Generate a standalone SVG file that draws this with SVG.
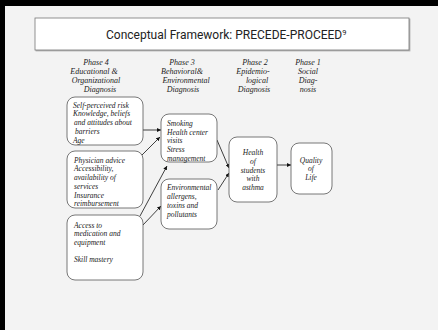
<svg xmlns="http://www.w3.org/2000/svg" width="438" height="330" viewBox="0 0 438 330">
<defs>
<marker id="arr" viewBox="0 0 10 10" refX="10" refY="5" markerWidth="4" markerHeight="4" orient="auto" markerUnits="userSpaceOnUse">
<path d="M0,0 L10,5 L0,10 z" fill="#111"/>
</marker>
<filter id="sh" x="-5%" y="-20%" width="110%" height="140%">
<feDropShadow dx="1" dy="1" stdDeviation="0.6" flood-color="#888" flood-opacity="0.6"/>
</filter>
</defs>
<style>
.bg{fill:#f3f3f3}
.box{fill:#fff;stroke:#555;stroke-width:0.8}
.ph{font-family:"Liberation Serif",serif;font-style:italic;font-size:8px;fill:#222;text-anchor:middle}
.bt{font-family:"Liberation Serif",serif;font-style:italic;font-size:7.5px;fill:#222}
.bc{text-anchor:middle}
.ln{stroke:#111;stroke-width:0.8;fill:none;marker-end:url(#arr)}
.title{font-family:Roboto,"Liberation Sans",sans-serif;font-size:12px;fill:#222}
</style>
<rect class="bg" x="0" y="0" width="438" height="330"/>
<rect x="0" y="0" width="438" height="6" fill="#000"/>
<rect x="0" y="0" width="5" height="330" fill="#000"/>

<g id="title">
<rect x="35" y="18" width="374" height="32" fill="#fff" stroke="#777" stroke-width="0.8" filter="url(#sh)"/>
<text class="title" x="106" y="39">Conceptual Framework: PRECEDE-PROCEED<tspan font-size="7.5px" dy="-4">9</tspan></text>
</g>

<g id="phase4"><text class="ph" x="96" y="65">Phase 4</text><text class="ph" x="94" y="74">Educational &amp;</text><text class="ph" x="96" y="83">Organizational</text><text class="ph" x="100" y="92">Diagnosis</text></g>
<g id="phase3"><text class="ph" x="182" y="65">Phase 3</text><text class="ph" x="182" y="74">Behavioral&amp;</text><text class="ph" x="186" y="83">Environmental</text><text class="ph" x="183" y="92">Diagnosis</text></g>
<g id="phase2"><text class="ph" x="255" y="65">Phase 2</text><text class="ph" x="253" y="74">Epidemio-</text><text class="ph" x="257" y="83">logical</text><text class="ph" x="254" y="92">Diagnosis</text></g>
<g id="phase1"><text class="ph" x="308" y="65">Phase 1</text><text class="ph" x="308" y="74">Social</text><text class="ph" x="308" y="83">Diag-</text><text class="ph" x="308" y="92">nosis</text></g>

<g id="connectors">
<line class="ln" x1="143" y1="130" x2="161" y2="130"/>
<line class="ln" x1="142" y1="155" x2="160" y2="137"/>
<line class="ln" x1="140" y1="216" x2="167" y2="166"/>
<line class="ln" x1="143" y1="225" x2="161" y2="206"/>
<line class="ln" x1="217" y1="140" x2="229" y2="168"/>
<line class="ln" x1="218" y1="190" x2="229" y2="173"/>
<line class="ln" x1="277" y1="165" x2="291" y2="165"/>
</g>

<g id="boxA">
<rect class="box" x="67" y="97" width="76" height="48" rx="8"/>
<text class="bt" x="73" y="108">Self-perceived risk</text>
<text class="bt" x="73" y="116">Knowledge, beliefs</text>
<text class="bt" x="74" y="125"> and attitudes about</text>
<text class="bt" x="75" y="134">barriers</text>
<text class="bt" x="73" y="143">Age</text>
</g>
<g id="boxB">
<rect class="box" x="67" y="151" width="76" height="57" rx="8"/>
<text class="bt" x="74" y="163">Physician advice</text>
<text class="bt" x="74" y="171">Accessibility,</text>
<text class="bt" x="74" y="180">availability of</text>
<text class="bt" x="74" y="189">services</text>
<text class="bt" x="74" y="198">Insurance</text>
<text class="bt" x="74" y="206">reimbursement</text>
</g>
<g id="boxC">
<rect class="box" x="67" y="215" width="76" height="65" rx="8"/>
<text class="bt" x="74" y="228">Access to</text>
<text class="bt" x="74" y="236">medication and</text>
<text class="bt" x="74" y="245">equipment</text>
<text class="bt" x="74" y="262">Skill mastery</text>
</g>
<g id="boxD">
<rect class="box" x="161" y="114" width="56" height="48" rx="8"/>
<text class="bt" x="167" y="126">Smoking</text>
<text class="bt" x="167" y="135">Health center</text>
<text class="bt" x="167" y="143">visits</text>
<text class="bt" x="167" y="152">Stress</text>
<text class="bt" x="167" y="161">management</text>
</g>
<g id="boxE">
<rect class="box" x="161" y="179" width="56" height="50" rx="8"/>
<text class="bt" x="167" y="190">Environmental</text>
<text class="bt" x="167" y="199">allergens,</text>
<text class="bt" x="167" y="208">toxins and</text>
<text class="bt" x="167" y="217">pollutants</text>
</g>
<g id="boxF">
<rect class="box" x="229" y="137" width="48" height="65" rx="8"/>
<text class="bt bc" x="253" y="155">Health</text>
<text class="bt bc" x="253" y="164">of</text>
<text class="bt bc" x="253" y="173">students</text>
<text class="bt bc" x="253" y="181">with</text>
<text class="bt bc" x="253" y="190">asthma</text>
</g>
<g id="boxG">
<rect class="box" x="291" y="143" width="41" height="51" rx="8"/>
<text class="bt bc" x="311" y="163">Quality</text>
<text class="bt bc" x="311" y="171">of</text>
<text class="bt bc" x="311" y="180">Life</text>
</g>
</svg>
